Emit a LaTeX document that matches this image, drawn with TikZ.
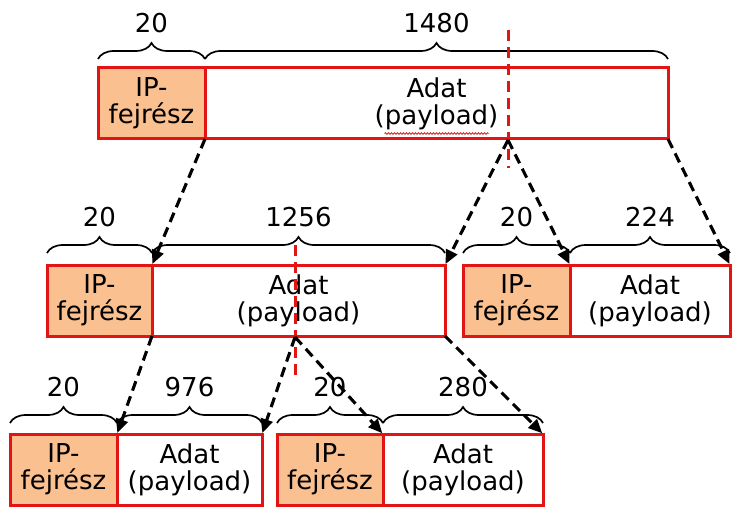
\documentclass[tikz,border=0pt]{standalone}
\usepackage{fontspec}
\setmainfont{DejaVu Sans}
\usetikzlibrary{arrows.meta,decorations.pathreplacing,decorations.pathmorphing,calc}
\definecolor{boxred}{RGB}{226,20,20}
\definecolor{peach}{RGB}{250,192,144}
\begin{document}
\begin{tikzpicture}[x=1pt,y=-1pt,
  every node/.style={font=\fontsize{26}{27}\selectfont},
  ipbox/.style={draw=boxred, fill=peach, line width=3pt, minimum height=71pt, inner sep=0pt, outer sep=0pt, anchor=north west, align=center},
  databox/.style={draw=boxred, fill=white, line width=3pt, minimum height=71pt, inner sep=0pt, outer sep=0pt, anchor=north west, align=center},
  brc/.style={decorate, decoration={brace, amplitude=16pt}, line width=1.7pt},
  lbl/.style={midway, yshift=36pt, anchor=center},
  flow/.style={line width=3.1pt, dash pattern=on 10pt off 6pt, -{Triangle[length=14pt,width=12pt]}, shorten >=1pt},
  cut/.style={draw=boxred, line width=3pt, dash pattern=on 11pt off 6pt}]
\useasboundingbox (0,0) rectangle (743,513);

% row 1
\node[ipbox, minimum width=107pt] (r1h) at (98,68) {IP-\\fejrész};
\node[databox, minimum width=463pt] (r1d) at (205,68) {Adat\\(payload)};
% row 2
\node[ipbox, minimum width=105pt] (r2ah) at (47,265) {IP-\\fejrész};
\node[databox, minimum width=293pt] (r2ad) at (152,265) {Adat\\(payload)};
\node[ipbox, minimum width=107pt] (r2bh) at (463,265) {IP-\\fejrész};
\node[databox, minimum width=160pt] (r2bd) at (570,265) {Adat\\(payload)};
% row 3
\node[ipbox, minimum width=107pt] (r3ah) at (10,434) {IP-\\fejrész};
\node[databox, minimum width=145pt] (r3ad) at (117,434) {Adat\\(payload)};
\node[ipbox, minimum width=106pt] (r3bh) at (277,434) {IP-\\fejrész};
\node[databox, minimum width=160pt] (r3bd) at (383,434) {Adat\\(payload)};

% spell-check squiggle
\draw[boxred, line width=0.8pt, decorate, decoration={snake, amplitude=0.8pt, segment length=3pt}]
  ($(r1d.center)+(-52,30)$) -- ($(r1d.center)+(52,30)$);

% braces
\draw[brc] ($(r1h.north west)+(0,-9)$) -- ($(r1h.north east)+(0,-9)$) node[lbl] {20};
\draw[brc] ($(r1d.north west)+(0,-9)$) -- ($(r1d.north east)+(0,-9)$) node[lbl] {1480};
\draw[brc] ($(r2ah.north west)+(0,-12)$) -- ($(r2ah.north east)+(0,-12)$) node[lbl] {20};
\draw[brc] ($(r2ad.north west)+(0,-12)$) -- ($(r2ad.north east)+(0,-12)$) node[lbl] {1256};
\draw[brc] ($(r2bh.north west)+(0,-12)$) -- ($(r2bh.north east)+(0,-12)$) node[lbl] {20};
\draw[brc] ($(r2bd.north west)+(0,-12)$) -- ($(r2bd.north east)+(0,-12)$) node[lbl] {224};
\draw[brc] ($(r3ah.north west)+(0,-11)$) -- ($(r3ah.north east)+(0,-11)$) node[lbl] {20};
\draw[brc] ($(r3ad.north west)+(0,-11)$) -- ($(r3ad.north east)+(0,-11)$) node[lbl] {976};
\draw[brc] ($(r3bh.north west)+(0,-11)$) -- ($(r3bh.north east)+(0,-11)$) node[lbl] {20};
\draw[brc] ($(r3bd.north west)+(0,-11)$) -- ($(r3bd.north east)+(0,-11)$) node[lbl] {280};

% cut lines
\coordinate (c1t) at (508,30);
\coordinate (c1b) at (508,168);
\coordinate (c2t) at (295,245);
\coordinate (c2b) at (295,381);
\draw[cut] (c1t) -- (c1b);
\draw[cut] (c2t) -- (c2b);

% split points
\coordinate (s1) at (508,140);
\coordinate (s2) at (295,337);

% arrows
\draw[flow] (r1h.south east) -- (r2ah.north east);
\draw[flow] (s1) -- (r2ad.north east);
\draw[flow] (s1) -- (r2bh.north east);
\draw[flow] (r1d.south east) -- (r2bd.north east);
\draw[flow] (r2ah.south east) -- (r3ah.north east);
\draw[flow] (s2) -- (r3ad.north east);
\draw[flow] (s2) -- (r3bh.north east);
\draw[flow] (r2ad.south east) -- (r3bd.north east);
\end{tikzpicture}
\end{document}
